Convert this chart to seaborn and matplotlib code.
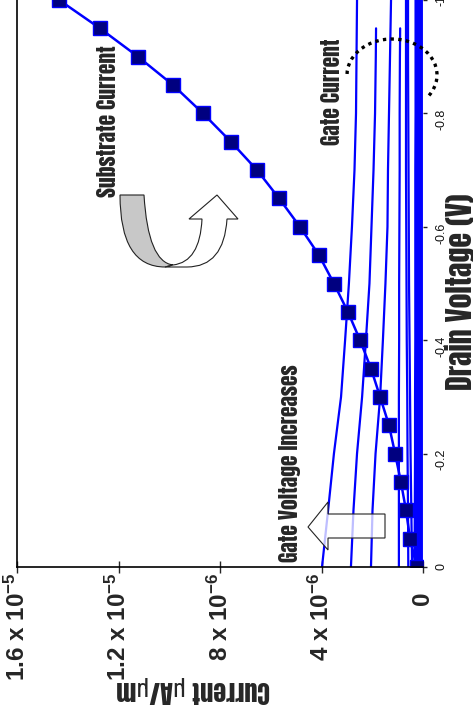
import numpy as np
import pandas as pd
import matplotlib
matplotlib.use("Agg")
import matplotlib.pyplot as plt
import seaborn as sns
from matplotlib.path import Path
from matplotlib.patches import PathPatch, Arc, Polygon

# ---------------- data ----------------
drain_v_sub = [0.0, -0.05, -0.10, -0.15, -0.20, -0.25, -0.30, -0.35, -0.40, -0.45, -0.50,
               -0.55, -0.60, -0.65, -0.70, -0.75, -0.80, -0.85, -0.90, -0.95, -1.00]
substrate_current = [0.25e-6, 0.51e-6, 0.67e-6, 0.87e-6, 1.10e-6, 1.34e-6, 1.69e-6, 2.05e-6,
                     2.48e-6, 2.96e-6, 3.51e-6, 4.10e-6, 4.85e-6, 5.67e-6, 6.54e-6, 7.57e-6,
                     8.67e-6, 9.85e-6, 1.123e-5, 1.273e-5, 1.434e-5]

drain_v_gate = [0.0, -0.1, -0.2, -0.3, -0.4, -0.5, -0.6, -0.7, -0.8, -0.9, -0.95, -1.0]
gate_curve_1 = [3.98e-6, 3.74e-6, 3.51e-6, 3.23e-6, 3.07e-6, 2.92e-6, 2.80e-6, 2.70e-6, 2.64e-6, 2.62e-6, 2.61e-6, 2.60e-6]
gate_curve_2 = [2.84e-6, 2.74e-6, 2.60e-6, 2.40e-6, 2.25e-6, 2.11e-6, 2.03e-6, 1.95e-6, 1.89e-6, 1.86e-6, 1.85e-6, np.nan]
gate_curve_3 = [2.05e-6, 1.99e-6, 1.87e-6, 1.69e-6, 1.58e-6, 1.48e-6, 1.40e-6, 1.38e-6, 1.34e-6, 1.30e-6, 1.28e-6, 1.26e-6]
gate_curve_4 = [0.95e-6, 0.95e-6, 0.95e-6, 0.95e-6, 0.94e-6, 0.94e-6, 0.93e-6, 0.92e-6, 0.92e-6, 0.91e-6, 0.90e-6, np.nan]
gate_curve_5 = [0.58e-6, 0.59e-6, 0.61e-6, 0.62e-6, 0.64e-6, 0.65e-6, 0.66e-6, 0.67e-6, 0.67e-6, 0.67e-6, 0.67e-6, 0.67e-6]
gate_curve_6 = [0.43e-6, 0.46e-6, 0.49e-6, 0.51e-6, 0.53e-6, 0.55e-6, 0.56e-6, 0.57e-6, 0.58e-6, 0.59e-6, 0.59e-6, 0.59e-6]
band_curve_1 = [0.30e-6, 0.29e-6, 0.28e-6, 0.28e-6, 0.27e-6, 0.27e-6, 0.27e-6, 0.27e-6, 0.26e-6, 0.26e-6, 0.26e-6, 0.26e-6]
band_curve_2 = [0.18e-6] * 12
band_curve_3 = [0.08e-6] * 12

current_ticks = [0.0, 4e-6, 8e-6, 1.2e-5, 1.6e-5]
current_labels = ["0   ", "4 x 10$^{-6}$", "8 x 10$^{-6}$", "1.2 x 10$^{-5}$", "1.6 x 10$^{-5}$"]
voltage_ticks = [0.0, -0.2, -0.4, -0.6, -0.8, -1.0]
voltage_labels = ["0", "-0.2", "-0.4", "-0.6", "-0.8", "-1"]

# ---------------- style ----------------
sns.set_style("white")
NARROW = ["Anton", "Oswald", "Roboto Condensed", "Archivo Narrow", "DejaVu Sans"]
plt.rcParams["font.family"] = ["Liberation Sans", "DejaVu Sans"]
plt.rcParams["mathtext.fontset"] = "custom"
plt.rcParams["mathtext.rm"] = "Liberation Sans:bold"
plt.rcParams["mathtext.bf"] = "Liberation Sans:bold"
plt.rcParams["mathtext.default"] = "rm"

W, H = 473, 717
fig = plt.figure(figsize=(W / 100, H / 100), dpi=100)
ax = fig.add_axes([17 / W, 1 - 567 / H, 406 / W, 567 / H])

BLUE = "#0000FF"

gate_curves = [gate_curve_1, gate_curve_2, gate_curve_3, gate_curve_4, gate_curve_5, gate_curve_6]
rows = []
for i, c in enumerate(gate_curves):
    for v, cur in zip(drain_v_gate, c):
        rows.append({"curve": i, "voltage": v, "current": cur})
df_gate = pd.DataFrame(rows).dropna()

band_rows = []
for i, c in enumerate([band_curve_1, band_curve_2, band_curve_3]):
    for v, cur in zip(drain_v_gate, c):
        band_rows.append({"curve": i, "voltage": v, "current": cur})
df_band = pd.DataFrame(band_rows)

sns.lineplot(data=df_band, x="current", y="voltage", units="curve", estimator=None,
             sort=False, color=BLUE, lw=2.8, ax=ax, legend=False)
sns.lineplot(data=df_gate, x="current", y="voltage", units="curve", estimator=None,
             sort=False, color=BLUE, lw=1.6, ax=ax, legend=False)

df_sub = pd.DataFrame({"voltage": drain_v_sub, "current": substrate_current})
sns.lineplot(data=df_sub, x="current", y="voltage", estimator=None, sort=False,
             color=BLUE, lw=1.8, marker="s", markersize=9.5,
             markerfacecolor="#000080", markeredgecolor=BLUE, markeredgewidth=1.0,
             ax=ax, legend=False)

ax.set_xlim(1.6e-5, 0)
ax.set_ylim(0, -1.0)

ax.set_xticks(current_ticks)
ax.set_xticklabels(current_labels, fontsize=17.5, fontweight="bold", rotation=90)
ax.yaxis.tick_right()
ax.set_yticks(voltage_ticks)
ax.set_yticklabels(voltage_labels, fontsize=9, rotation=90, color="#111111")
ax.tick_params(axis="x", direction="inout", length=8, width=1.0, pad=0, bottom=True)
ax.tick_params(axis="y", direction="out", length=3, width=1.0, pad=6, right=True, left=False)

for s in ["top", "right"]:
    ax.spines[s].set_visible(False)
for s in ["left", "bottom"]:
    ax.spines[s].set_color("black")
    ax.spines[s].set_linewidth(1.2)

ax.set_xlabel("Current \u03bcA/\u03bcm", family=NARROW, fontsize=19,
              rotation=180, ha="center", va="center")
ax.xaxis.set_label_coords((193 - 17) / 406, -(689 - 567) / 567)
ax.yaxis.set_label_position("right")
ax.set_ylabel("Drain Voltage (V)", family=NARROW, fontsize=21.5,
              rotation=90, ha="center", va="center")
ax.yaxis.set_label_coords((460 - 17) / 406, (567 - 292) / 567)


def P(x, y):
    return (x / W, 1 - y / H)


# annotation texts
fig.text(*P(108, 121), "Substrate Current", family=NARROW, fontsize=15.5,
         rotation=90, ha="center", va="center")
fig.text(*P(332, 92), "Gate Current", family=NARROW, fontsize=15.5,
         rotation=90, ha="center", va="center")
fig.text(*P(290, 463), "Gate Voltage Increases", family=NARROW, fontsize=15.5,
         rotation=90, ha="center", va="center")

# dotted arc around gate current
arc = Arc(P(392, 75), 90 / W, 72 / H, theta1=-20, theta2=182, transform=fig.transFigure,
          color="black", lw=2.4, linestyle=(0, (1, 1.3)), clip_on=False)
fig.add_artist(arc)

# U-turn arrow
gray_verts = [P(120, 195), P(144, 195), P(148, 262), P(173, 265), P(165, 267),
              P(120, 267), P(120, 195), P(120, 195)]
gray_codes = [Path.MOVETO, Path.LINETO, Path.CURVE3, Path.CURVE3, Path.LINETO,
              Path.CURVE3, Path.CURVE3, Path.CLOSEPOLY]
fig.add_artist(PathPatch(Path(gray_verts, gray_codes), facecolor="#c8c8c8", edgecolor="#222222",
                         lw=0.8, transform=fig.transFigure))
white_verts = [P(173, 265), P(200, 262), P(202, 219), P(189, 219), P(217, 195), P(238, 219),
               P(227, 219), P(224, 267), P(187, 267), P(165, 267), P(173, 265)]
white_codes = [Path.MOVETO, Path.CURVE3, Path.CURVE3, Path.LINETO, Path.LINETO, Path.LINETO,
               Path.LINETO, Path.CURVE3, Path.CURVE3, Path.LINETO, Path.CLOSEPOLY]
fig.add_artist(PathPatch(Path(white_verts, white_codes), facecolor="white", edgecolor="#222222",
                         lw=0.8, transform=fig.transFigure))

# block arrow for gate voltage increases
block = Polygon([P(308, 527), P(328, 502), P(328, 514), P(385, 514), P(385, 538),
                 P(328, 538), P(328, 550)], closed=True, facecolor=(1, 1, 1, 0.75),
                edgecolor="#222222", lw=0.8, transform=fig.transFigure)
fig.add_artist(block)

fig.savefig("out.png", dpi=100)
